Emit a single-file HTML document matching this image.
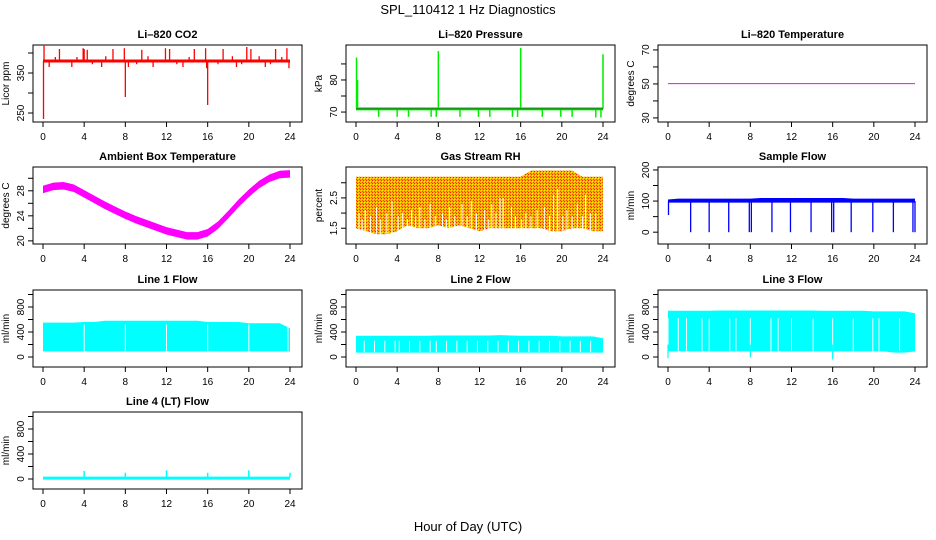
<!DOCTYPE html>
<html><head><meta charset="utf-8">
<style>
html,body{margin:0;padding:0;background:#fff;}
svg{display:block;font-family:"Liberation Sans",Arial,sans-serif;}
</style></head>
<body>
<svg id="chart" width="936" height="540" viewBox="0 0 936 540">
<defs>
<pattern id="rhpat" width="3" height="3" patternUnits="userSpaceOnUse">
<rect width="3" height="3" fill="#f2b400"/>
<rect x="0" y="0" width="1" height="1" fill="#ff2000"/>
<rect x="1" y="1" width="1" height="1" fill="#ffee00"/>
<rect x="2" y="2" width="1" height="1" fill="#ff4000"/>
</pattern>
</defs>
<text x="468" y="14" text-anchor="middle" font-size="13">SPL_110412  1 Hz Diagnostics</text>
<text x="468" y="531" text-anchor="middle" font-size="13">Hour of Day (UTC)</text>
</svg>
<script>
// ---- data arrays ----
const hours = [0,1,2,3,4,5,6,7,8,9,10,11,12,13,14,15,16,17,18,19,20,21,22,23,24];
const xTicks = [0,4,8,12,16,20,24];
// CO2
const co2Base = 380;
const co2SpikeT = [0.05,0.1,1.6,3.9,4.0,4.3,6.8,7.9,9.6,11.9,12.3,14.7,15.8,17.5,19.8,20.2,22.6,23.7,0.6,2.8,5.7,8.0,8.3,10.7,13.6,15.9,16.0,18.8,21.6,23.9,1.2,3.3,4.8,6.1,9.1,10.2,13.0,14.2,17.0,18.4,19.3,21.0,22.1,23.2];
const co2SpikeV = [235,418,410,412,410,408,410,412,408,412,410,410,412,410,415,410,410,412,365,365,365,290,365,365,365,362,270,365,365,362,390,390,372,392,372,392,372,390,372,392,372,392,372,390];
// Pressure
const presBase = 71;
const presSpikeT = [0.05,0.15,8.0,16.0,24.0,2.2,4.0,5.1,7.3,7.8,10.1,11.9,13.0,15.2,15.7,18.1,19.9,21.0,23.3,23.8];
const presSpikeV = [87,80,89,90,88,68.5,68.5,68.5,68.5,68.5,68.5,68.5,68.5,68.5,68.5,68.5,68.5,68.5,68.3,68.3];
// Li-820 temperature
const licorTemp = 50.2;
// Ambient box temperature (hourly)
const ambTemp = [28.2,28.7,28.8,28.4,27.5,26.6,25.7,24.9,24.1,23.4,22.8,22.2,21.6,21.2,20.8,20.8,21.3,22.5,24.2,26.0,27.6,29.0,30.0,30.6,30.7];
// Gas stream RH (hourly envelope)
const rhUpper = [3.2,3.2,3.2,3.2,3.2,3.2,3.2,3.2,3.2,3.2,3.2,3.2,3.2,3.2,3.2,3.2,3.2,3.4,3.4,3.4,3.4,3.4,3.2,3.2,3.2];
const rhLower = [1.5,1.4,1.3,1.3,1.4,1.6,1.5,1.5,1.6,1.5,1.6,1.5,1.4,1.5,1.5,1.5,1.5,1.5,1.5,1.4,1.4,1.5,1.5,1.4,1.4];
const rhGapT = [0.3,0.6,0.9,1.4,2.0,2.4,3.0,3.5,4.1,4.5,5.0,5.4,5.8,6.2,6.7,7.2,7.7,8.4,8.8,9.1,9.6,10.3,10.8,11.2,11.7,12.5,12.9,13.2,13.6,14.0,14.3,15.1,15.5,16.1,16.5,17.0,17.6,18.3,18.8,19.2,19.6,20.1,20.5,21.0,21.5,22.0,22.3,22.8,23.3];
const rhGapV = [2.0,1.8,2.1,1.9,2.2,1.8,2.0,2.4,1.9,2.0,1.8,2.1,1.9,2.2,1.8,2.3,1.9,2.0,1.8,2.2,1.9,2.3,1.9,2.4,2.0,2.1,1.8,2.3,2.0,2.5,2.5,2.2,1.9,1.8,2.0,1.9,2.1,2.2,1.9,2.6,2.8,1.9,2.1,1.9,2.3,1.9,2.6,2.0,2.0];
// Sample flow
const sfLower = [95,95,95,95,95,95,95,95,95,95,95,95,95,95,95,95,95,95,95,95,95,95,95,95,95];
const sfUpper = [105,108,108,108,108,108,108,108,108,110,110,110,110,110,110,110,110,110,108,108,108,108,108,108,108];
const sfDropT = [0.05,2.2,4.0,5.9,7.9,8.1,10.1,11.9,13.9,15.9,16.1,17.8,19.9,21.9,23.8,24.0];
const sfDropV = [55,0,0,0,0,0,0,0,0,0,0,0,0,0,0,0];
// Line flows
const l1Upper = [550,550,550,550,560,560,580,580,580,580,580,580,580,580,580,580,560,560,560,560,540,540,540,540,460];
const l1Lower = [90,90,90,90,90,90,90,90,90,90,90,90,90,90,90,90,90,90,90,90,90,90,90,90,90];
const l1GapT = [4.0,8.0,12.0,16.0,20.0,23.8];
const l2Upper = [340,340,340,340,340,340,340,340,345,345,345,345,345,345,350,345,340,340,340,340,330,330,330,330,300];
const l2Lower = [70,70,70,70,70,70,70,70,70,70,70,70,70,70,70,70,70,70,70,70,70,70,70,70,70];
const l2GapT = [0.8,1.8,2.8,3.8,4.2,5.2,6.2,7.2,7.8,8.8,9.8,10.8,11.8,12.8,13.8,14.8,15.8,16.8,17.8,18.8,19.8,20.8,21.8,22.8];
const l3Upper = [740,740,740,740,740,745,745,745,745,745,745,745,745,745,745,740,740,740,740,740,730,730,730,730,700];
const l3Lower = [90,90,90,90,90,90,90,90,90,90,90,90,90,90,90,90,90,90,90,90,90,90,70,70,90];
const l3GapT = [0.0,1.0,1.8,3.3,4.0,6.0,6.6,8.0,10.0,10.7,12.0,14.1,16.0,18.0,19.9,20.5,22.5];
const l3DropT = [0.0,8.0,16.0];
const l3DropV = [-20,-10,-40];
const l4Base = 30;
const l4SpikeT = [4.0,8.0,12.0,16.0,20.0,24.0];
const l4SpikeV = [130,100,140,100,140,100];

// ---- layout ----
const svg = document.getElementById('chart');
const NS = 'http://www.w3.org/2000/svg';
const colX0 = [43,356,668];
const rowTop = [45,167,290,412];
const boxH = 77;
const xSpan = 247;
function mk(tag, attrs, parent){const e=document.createElementNS(NS,tag);for(const k in attrs)e.setAttribute(k,attrs[k]);(parent||svg).appendChild(e);return e;}

function panel(col,row,title,ylab,ymin,ymax,yTicks,yLabels,name){
  const x0=colX0[col], top=rowTop[row], bot=top+boxH;
  const left=x0-10, right=x0+xSpan+12;
  const g=mk('g',{});
  
  
  const sx=t=>x0+t/24*xSpan;
  const sy=v=>bot-(v-ymin)/(ymax-ymin)*boxH;
  const box=mk('rect',{x:left,y:top,width:right-left,height:boxH,fill:'none',stroke:'#000','stroke-width':1},g);
  
  
  const tt=mk('text',{x:(left+right)/2,y:top-7,'text-anchor':'middle','font-size':11,'font-weight':'bold'},g);
  tt.textContent=title;
  
  
  xTicks.forEach(t=>{
    mk('line',{x1:sx(t),x2:sx(t),y1:bot,y2:bot+5,stroke:'#000'},g);
    const tl=mk('text',{x:sx(t),y:bot+18,'text-anchor':'middle','font-size':10},g);
    tl.textContent=t;
    
    
  });
  yTicks.forEach(v=>{
    mk('line',{x1:left,x2:left-5,y1:sy(v),y2:sy(v),stroke:'#000'},g);
    if(yLabels.indexOf(v)>=0){
      const yl=mk('text',{x:0,y:0,'text-anchor':'middle','font-size':10,transform:`translate(${left-9},${sy(v)}) rotate(-90)`},g);
      yl.textContent=v;
      
      
    }
  });
  const at=mk('text',{x:0,y:0,'text-anchor':'middle','font-size':10,transform:`translate(${left-24},${(top+bot)/2}) rotate(-90)`},g);
  at.textContent=ylab;
  
  
  return {g,sx,sy};
}
function band(p,upper,lower,fill,name){
  let d='M'+hours.map((h,i)=>p.sx(h)+','+p.sy(upper[i])).join('L');
  d+='L'+hours.slice().reverse().map((h,j)=>p.sx(h)+','+p.sy(lower[hours.length-1-j])).join('L')+'Z';
  const e=mk('path',{d,fill,stroke:'none'},p.g);
  
  
}
function spikes(p,ts,vs,base,color,w,name){
  ts.forEach((t,i)=>{
    const e=mk('line',{x1:p.sx(t),x2:p.sx(t),y1:p.sy(base),y2:p.sy(vs[i]),stroke:color,'stroke-width':w},p.g);
    
    
  });
}
function hline(p,v,color,w,name,t0,t1){
  const e=mk('line',{x1:p.sx(t0),x2:p.sx(t1),y1:p.sy(v),y2:p.sy(v),stroke:color,'stroke-width':w},p.g);
  
  
  return e;
}
function gaps(p,ts,vlow,vhigh,name){
  ts.forEach((t,i)=>{
    const lo=Array.isArray(vlow)?vlow[i]:vlow;
    const hi=Array.isArray(vhigh)?vhigh[i]:vhigh;
    const e=mk('line',{x1:p.sx(t),x2:p.sx(t),y1:p.sy(lo),y2:p.sy(hi),stroke:'#fff','stroke-width':1},p.g);
    
    
  });
}

// CO2
let p=panel(0,0,'Li\u2013820 CO2','Licor ppm',227.5,420,[250,300,350,400],[250,350],'co2');
spikes(p,co2SpikeT,co2SpikeV,co2Base,'#ff0000',1.3,'co2-spike');
hline(p,co2Base,'#ff0000',3,'co2-line',0,24);
// Pressure
p=panel(1,0,'Li\u2013820 Pressure','kPa',66.9,90.9,[70,75,80,85],[70,80],'pressure');
spikes(p,presSpikeT,presSpikeV,presBase,'#00ee00',1.5,'pressure-spike');
hline(p,presBase,'#00ee00',3,'pressure-line',0,24);
hline(p,presBase,'#226622',1,'pressure-line-center',0,24);
// Li-820 temperature
p=panel(2,0,'Li\u2013820 Temperature','degrees C',27.6,72.9,[30,40,50,60,70],[30,50,70],'licor-temp');
hline(p,licorTemp,'#ff00ff',1,'licor-temp-line',0,24);
// Ambient
p=panel(0,1,'Ambient Box Temperature','degrees C',19.5,31.8,[20,22,24,26,28,30],[20,24,28],'ambient-temp');
band(p,ambTemp.map(v=>v+0.6),ambTemp.map(v=>v-0.6),'#ff00ff','ambient-temp-band');
// RH
p=panel(1,1,'Gas Stream RH','percent',0.98,3.52,[1.5,2,2.5,3],[1.5,2.5],'gas-rh');
band(p,rhUpper,rhLower,'url(#rhpat)','rh-band');
gaps(p,rhGapT,1.2,rhGapV,'rh-gap');
// Sample flow
p=panel(2,1,'Sample Flow','ml/min',-38,209.5,[0,50,100,150,200],[0,100,200],'sample-flow');
band(p,sfUpper,sfLower,'#0000ff','sample-flow-band');
spikes(p,sfDropT,sfDropV,100,'#0000ff',1.3,'sample-flow-drop');
// Line flows
const fTicks=[0,200,400,600,800,1000], fLab=[0,400,800];
p=panel(0,2,'Line 1 Flow','ml/min',-160,1072,fTicks,fLab,'line1-flow');
band(p,l1Upper,l1Lower,'#00ffff','line1-band');
gaps(p,l1GapT,100,520,'line1-gap');
p=panel(1,2,'Line 2 Flow','ml/min',-160,1072,fTicks,fLab,'line2-flow');
band(p,l2Upper,l2Lower,'#00ffff','line2-band');
gaps(p,l2GapT,80,260,'line2-gap');
p=panel(2,2,'Line 3 Flow','ml/min',-160,1072,fTicks,fLab,'line3-flow');
band(p,l3Upper,l3Lower,'#00ffff','line3-band');
gaps(p,l3GapT,100,620,'line3-gap');
spikes(p,l3DropT,l3DropV,200,'#00ffff',1.2,'line3-drop');
p=panel(0,3,'Line 4 (LT) Flow','ml/min',-160,1072,fTicks,fLab,'line4-flow');
hline(p,l4Base/2,'#00ffff',3,'line4-line',0,24);
spikes(p,l4SpikeT,l4SpikeV,l4Base,'#00ffff',1.5,'line4-spike');
</script>
</body></html>
